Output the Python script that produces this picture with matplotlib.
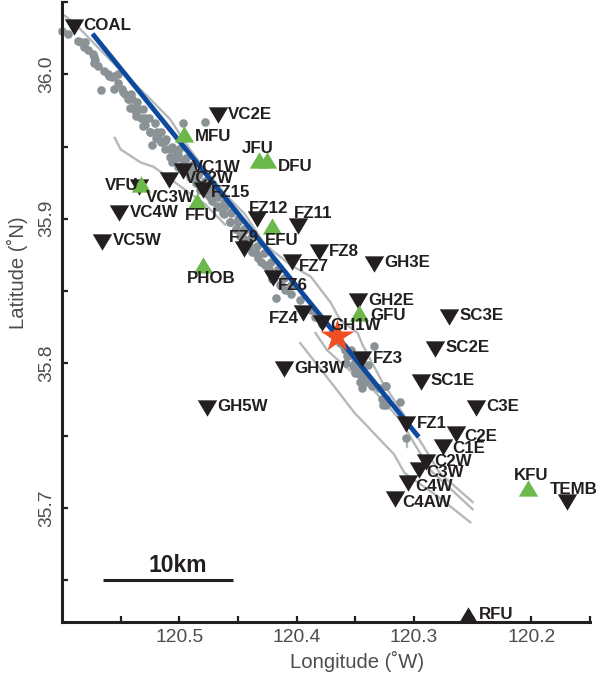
import numpy as np
import matplotlib
matplotlib.use('Agg')
import matplotlib.pyplot as plt

plt.rcParams['font.family'] = ['Liberation Sans', 'DejaVu Sans']

# stations (name, lon, lat)
black_names = ['COAL', 'VC2E', 'VC1W', 'VC2W', 'VC3W', 'FZ15', 'VC4W', 'VC5W', 'FZ12', 'FZ11', 'FZ9', 'FZ8', 'FZ7',
               'GH3E', 'FZ6', 'GH2E', 'SC3E', 'FZ4', 'GH1W', 'FZ3', 'GH3W', 'SC2E', 'SC1E', 'GH5W', 'C3E', 'FZ1',
               'C2E', 'C1E', 'C2W', 'C3W', 'C4W', 'C4AW', 'TEMB']
black_lon = [120.590, 120.467, 120.497, 120.509, 120.534, 120.480, 120.551, 120.566, 120.434, 120.399, 120.445,
             120.381, 120.404, 120.334, 120.420, 120.348, 120.270, 120.395, 120.378, 120.344, 120.411, 120.282,
             120.294, 120.476, 120.247, 120.307, 120.264, 120.275, 120.290, 120.296, 120.305, 120.316, 120.170]
black_lat = [36.033, 35.972, 35.933, 35.927, 35.922, 35.920, 35.904, 35.884, 35.900, 35.895, 35.879,
             35.877, 35.870, 35.869, 35.859, 35.843, 35.832, 35.835, 35.828, 35.803, 35.796, 35.810,
             35.787, 35.769, 35.769, 35.758, 35.751, 35.742, 35.732, 35.726, 35.717, 35.706, 35.704]

green_names = ['MFU', 'JFU', 'DFU', 'VFU', 'FFU', 'EFU', 'PHOB', 'GFU', 'KFU']
green_lon = [120.496, 120.432, 120.425, 120.533, 120.485, 120.421, 120.480, 120.347, 120.203]
green_lat = [35.959, 35.941, 35.941, 35.924, 35.912, 35.895, 35.868, 35.835, 35.714]

rfu_name = 'RFU'
rfu_lon = [120.254]
rfu_lat = [35.626]

star_lon = [120.366]
star_lat = [35.819]

# rupture line
rupture_lon = [120.574, 120.296]
rupture_lat = [36.028, 35.749]

# seismicity
quake_lon = [120.600, 120.595, 120.584, 120.581, 120.578, 120.574, 120.572, 120.569, 120.564, 120.560, 120.557,
             120.552, 120.567, 120.556, 120.549, 120.546, 120.543, 120.540, 120.537, 120.533, 120.529, 120.525,
             120.520, 120.516, 120.523, 120.512, 120.508, 120.506, 120.501, 120.495, 120.491, 120.486, 120.478,
             120.497, 120.482, 120.476, 120.472, 120.467, 120.462, 120.457, 120.452, 120.448, 120.442, 120.438,
             120.433, 120.427, 120.421, 120.414, 120.418, 120.410, 120.405, 120.397, 120.388, 120.384, 120.378,
             120.370, 120.363, 120.359, 120.354, 120.350, 120.346, 120.344, 120.340, 120.336, 120.330, 120.324,
             120.326, 120.312, 120.334, 120.307, 120.325,
             120.541, 120.536, 120.531, 120.526, 120.521, 120.516, 120.511, 120.506, 120.501, 120.496, 120.489,
             120.484, 120.478, 120.473, 120.468, 120.462, 120.456, 120.450, 120.444, 120.439, 120.358, 120.350,
             120.344,
             120.500, 120.508, 120.494, 120.502, 120.489, 120.497, 120.484, 120.491, 120.478, 120.486, 120.472,
             120.480, 120.467, 120.474, 120.461, 120.468, 120.456, 120.463, 120.450, 120.457, 120.445, 120.452,
             120.439, 120.446, 120.434, 120.441, 120.428, 120.435, 120.422, 120.430, 120.416, 120.424, 120.411,
             120.419, 120.405, 120.413,
             120.586, 120.580, 120.573, 120.573, 120.561, 120.556, 120.552, 120.548, 120.544, 120.540, 120.542,
             120.535, 120.537, 120.529, 120.531, 120.525, 120.519, 120.518, 120.512, 120.506, 120.503,
             120.357, 120.352, 120.346, 120.339, 120.336, 120.324, 120.327, 120.324, 120.354, 120.348, 120.343,
             120.360]
quake_lat = [36.030, 36.028, 36.022, 36.019, 36.017, 36.014, 36.010, 36.006, 36.002, 35.999, 35.998,
             36.000, 35.989, 35.990, 35.990, 35.986, 35.983, 35.977, 35.974, 35.970, 35.965, 35.960,
             35.956, 35.953, 35.951, 35.948, 35.943, 35.939, 35.936, 35.933, 35.929, 35.925, 35.967,
             35.966, 35.920, 35.917, 35.912, 35.908, 35.903, 35.898, 35.893, 35.888, 35.882, 35.877,
             35.873, 35.868, 35.858, 35.854, 35.845, 35.851, 35.848, 35.844, 35.837, 35.832, 35.827,
             35.820, 35.814, 35.809, 35.806, 35.801, 35.796, 35.790, 35.787, 35.785, 35.783, 35.775,
             35.771, 35.773, 35.812, 35.748, 35.784,
             35.986, 35.981, 35.976, 35.970, 35.966, 35.960, 35.955, 35.949, 35.944, 35.940, 35.935,
             35.930, 35.925, 35.920, 35.916, 35.911, 35.905, 35.900, 35.892, 35.887, 35.800, 35.793,
             35.783,
             35.948, 35.948, 35.942, 35.942, 35.937, 35.937, 35.931, 35.931, 35.926, 35.926, 35.920,
             35.920, 35.915, 35.915, 35.909, 35.909, 35.904, 35.904, 35.898, 35.898, 35.893, 35.893,
             35.887, 35.887, 35.881, 35.881, 35.876, 35.876, 35.870, 35.870, 35.865, 35.865, 35.859,
             35.859, 35.854, 35.854,
             36.023, 36.022, 36.012, 36.008, 36.000, 35.999, 35.994, 35.988, 35.983, 35.983, 35.977,
             35.976, 35.971, 35.970, 35.964, 35.960, 35.960, 35.956, 35.954, 35.950, 35.946,
             35.805, 35.798, 35.787, 35.799, 35.784, 35.784, 35.775, 35.771, 35.809, 35.793, 35.791,
             35.811]

# mapped fault traces
fault1_lon = [120.600, 120.589, 120.559, 120.525, 120.508, 120.491, 120.478, 120.461, 120.444, 120.427, 120.405,
              120.388, 120.371, 120.363, 120.348, 120.344, 120.327, 120.306, 120.290, 120.278, 120.250]
fault1_lat = [36.042, 36.035, 36.010, 35.983, 35.969, 35.948, 35.934, 35.917, 35.903, 35.882, 35.868,
              35.860, 35.842, 35.830, 35.821, 35.813, 35.787, 35.761, 35.740, 35.724, 35.704]
fault2_lon = [120.397, 120.368, 120.351, 120.317, 120.308, 120.280, 120.252]
fault2_lat = [35.814, 35.784, 35.766, 35.737, 35.724, 35.708, 35.690]
fault3_lon = [120.384, 120.374, 120.359, 120.335, 120.312, 120.286, 120.250]
fault3_lat = [35.821, 35.809, 35.798, 35.782, 35.761, 35.726, 35.699]
fault4_lon = [120.306, 120.306]
fault4_lat = [35.749, 35.742]
fault5_lon = [120.555, 120.550, 120.533, 120.522, 120.510, 120.495, 120.478, 120.461]
fault5_lat = [35.956, 35.948, 35.939, 35.936, 35.929, 35.920, 35.910, 35.896]

# label offsets from the marker, pixels (right, up)
label_offset = {'COAL': (10, 3), 'VC2E': (10, 2), 'MFU': (11, -1), 'JFU': (-17, 13), 'DFU': (11, -5),
                'VC1W': (9, 5), 'VC2W': (16, 3), 'VFU': (-36, 0), 'VC3W': (6, -9), 'FZ15': (8, -1),
                'FFU': (-12, -13), 'VC4W': (10, 2), 'VC5W': (11, 3), 'FZ12': (-8, 12), 'EFU': (-7, -13),
                'FZ9': (-15, 13), 'PHOB': (-16, -12), 'FZ11': (-4, 14), 'FZ8': (10, 2), 'FZ7': (7, -3),
                'GH3E': (10, 3), 'FZ6': (5, -6), 'GH2E': (11, 2), 'GFU': (11, -1), 'SC3E': (10, 3),
                'FZ4': (-34, -4), 'GH1W': (8, -1), 'FZ3': (11, 2), 'GH3W': (10, 2), 'SC2E': (10, 3),
                'SC1E': (10, 3), 'GH5W': (10, 3), 'C3E': (10, 3), 'FZ1': (11, 2), 'C2E': (8, -1),
                'C1E': (9, 0), 'C2W': (9, 2), 'C3W': (8, -1), 'C4W': (7, -2), 'C4AW': (7, -2),
                'KFU': (-14, 14), 'TEMB': (-17, 14), 'RFU': (11, 2)}

xticks = [120.55, 120.5, 120.45, 120.4, 120.35, 120.3, 120.25, 120.2, 120.15]
xtick_labels = ['', '120.5', '', '120.4', '', '120.3', '', '120.2', '']
yticks = [35.65, 35.7, 35.75, 35.8, 35.85, 35.9, 35.95, 36.0, 36.05]
ytick_labels = ['', '35.7', '', '35.8', '', '35.9', '', '36.0', '']

INK = '#231f20'
TICK_TEXT = '#4d4d4f'
down_tri = np.array([[-1, 0.84], [1, 0.84], [0, -0.84]])
up_tri = np.array([[-1, -0.84], [1, -0.84], [0, 0.84]])

fig = plt.figure(figsize=(5.97, 6.78), dpi=100)
ax = fig.add_axes([62/597, 1 - 622/678, 528/597, 620/678])
ax.set_xlim(120.6, 120.15)
ax.set_ylim(35.621, 36.05)

for lon, lat in [(fault1_lon, fault1_lat), (fault2_lon, fault2_lat), (fault3_lon, fault3_lat),
                 (fault4_lon, fault4_lat), (fault5_lon, fault5_lat)]:
    ax.plot(lon, lat, color='#b4b9bc', lw=1.7, zorder=1, clip_on=False)

ax.plot(quake_lon, quake_lat, 'o', ms=6.2, color='#8b9296', mec='none', zorder=2, clip_on=False)
ax.plot(rupture_lon, rupture_lat, color='#0d4a9e', lw=3.5, solid_capstyle='butt', zorder=3)

ax.plot(black_lon, black_lat, ls='none', marker=down_tri, ms=14, color=INK, mec='none', zorder=4)
ax.plot(rfu_lon, rfu_lat, ls='none', marker=up_tri, ms=14, color=INK, mec='none', zorder=4, clip_on=False)
ax.plot(green_lon, green_lat, ls='none', marker=up_tri, ms=14, color='#6db84a', mec='none', zorder=5)
ax.plot(star_lon, star_lat, '*', ms=25, color='#f04e23', mec='none', zorder=6)

names = black_names + green_names + [rfu_name]
lons = black_lon + green_lon + rfu_lon
lats = black_lat + green_lat + rfu_lat
for name, lon, lat in zip(names, lons, lats):
    ax.annotate(name, (lon, lat), xytext=label_offset[name], textcoords='offset pixels', ha='left',
                va='center_baseline', fontsize=12.2, fontweight='bold', color=INK, zorder=7)

# scale bar
ax.plot([120.565, 120.454], [35.65, 35.65], color=INK, lw=2.2, solid_capstyle='butt', zorder=3)
ax.text(120.5015, 35.6615, '10km', ha='center', va='center_baseline', fontsize=16.5, fontweight='bold', color=INK)

ax.spines['top'].set_visible(False)
ax.spines['right'].set_visible(False)
ax.spines['left'].set_linewidth(2.2)
ax.spines['bottom'].set_linewidth(2.2)
ax.spines['left'].set_color(INK)
ax.spines['bottom'].set_color(INK)

ax.set_xticks(xticks)
ax.set_xticklabels(xtick_labels)
ax.set_yticks(yticks)
ax.set_yticklabels(ytick_labels, rotation=90, va='center')
ax.tick_params(direction='in', length=4, width=1.6, color=INK, labelcolor=TICK_TEXT, labelsize=13.9)
ax.tick_params(axis='x', pad=5)
ax.tick_params(axis='y', pad=5)

fig.text(357/597, 1 - 661/678, 'Longitude (˚W)', ha='center', va='center', fontsize=14.6, color=TICK_TEXT)
fig.text(17/597, 1 - 273/678, 'Latitude (˚N)', ha='center', va='center', rotation=90, fontsize=14.6, color=TICK_TEXT)

plt.savefig('out.png', dpi=100)
